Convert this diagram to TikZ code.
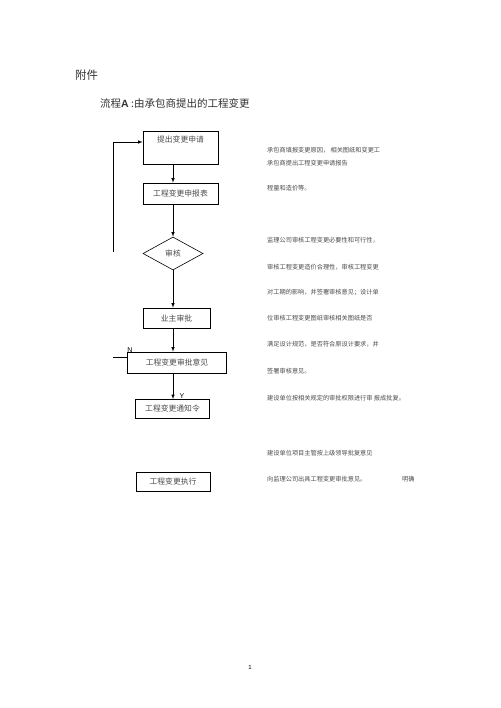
\documentclass[tikz,border=0pt]{standalone}
\usepackage{fontspec}
\setmainfont{Noto Sans CJK SC}
\newfontfamily\latinsans{Liberation Sans}
\usetikzlibrary{shapes.geometric}

\begin{document}
\begin{tikzpicture}[x=1pt,y=-1pt,>=latex]

\tikzstyle{stage}=[rectangle,draw=black,line width=0.6pt,text=black!70,font=\fontsize{7.8}{9}\selectfont,inner sep=0pt]
\tikzstyle{check}=[diamond,draw=black,line width=0.6pt,text=black!70,font=\fontsize{7.8}{9}\selectfont,inner sep=0pt,minimum width=60pt,minimum height=33pt]
\tikzstyle{note}=[anchor=west,inner sep=0pt,text=black!70,font=\fontsize{6.2}{7}\selectfont]
\tikzstyle{flow}=[->,line width=0.6pt]
\tikzstyle{yn}=[inner sep=0pt,font=\latinsans\fontsize{7}{8}\selectfont]

\useasboundingbox[fill=white] (0,0) rectangle (500,708);

\node[anchor=west,inner sep=0pt,text=black!80,font=\fontsize{11.5}{13}\selectfont] (att) at (75,75) {附件};
\node[anchor=west,inner sep=0pt,text=black!80,font=\fontsize{10.5}{12}\selectfont] (title) at (100,103) {流程{\latinsans\bfseries A} :由承包商提出的工程变更};

\node[stage,anchor=north,minimum width=75pt,inner ysep=3pt,text height=8pt,text depth=19pt] (apply) at (180.5,131) {提出变更申请};
\node[stage,minimum width=75pt,minimum height=21pt] (form) at (180.5,193.5) {工程变更申报表};
\node[check] (chk) at (173,253.5) {审核};
\node[stage,minimum width=67pt,minimum height=20pt] (owner) at (176.5,318) {业主审批};
\node[stage,minimum width=99pt,minimum height=21pt] (opinion) at (177,362.5) {工程变更审批意见};
\node[stage,minimum width=74pt,minimum height=19pt] (notice) at (172.5,409) {工程变更通知令};
\node[stage,minimum width=74pt,minimum height=19pt] (exec) at (173,481.5) {工程变更执行};

\draw[flow] (apply.south -| chk) -- (form.north -| chk);
\draw[flow] (form.south -| chk) -- (chk.north);
\draw[flow] (chk.south) -- (owner.north -| chk);
\draw[flow] (owner.south -| chk) -- (opinion.north -| chk);
\draw[flow] (opinion.south -| chk) -- (notice.north -| chk);

\coordinate (back) at (113,252);
\coordinate (backin) at (113,142);
\draw[flow] (back) -- (backin) -- (backin -| apply.west);
\coordinate (nend) at (113,357);
\draw[line width=0.6pt] (opinion.west |- nend) -- (nend);
\node[yn] (no) at (130,350) {N};
\node[yn] (yes) at (182,396) {Y};

\node[note] (n1) at (267,150) {承包商填报变更原因， 相关图纸和变更工};
\node[note] (n2) at (267,163) {承包商提出工程变更申请报告};
\node[note] (n3) at (267,188) {程量和造价等。};
\node[note] (n4) at (267,240) {监理公司审核工程变更必要性和可行性，};
\node[note] (n5) at (267,267) {审核工程变更造价合理性，审核工程变更};
\node[note] (n6) at (267,292) {对工期的影响，并签署审核意见；设计单};
\node[note] (n7) at (267,318) {位审核工程变更图纸审核相关图纸是否};
\node[note] (n8) at (267,344) {满足设计规范，是否符合原设计要求，并};
\node[note] (n9) at (267,371) {签署审核意见。};
\node[note] (n10) at (267,398) {建设单位按相关规定的审批权限进行审 报成批复。};
\node[note] (n11) at (267,453) {建设单位项目主管按上级领导批复意见};
\node[note] (n12) at (267,479) {向监理公司出具工程变更审批意见。};
\node[note] (n13) at (402,479) {明确};

\node[inner sep=0pt,font=\latinsans\fontsize{6}{7}\selectfont] (page) at (250,667) {1};
\end{tikzpicture}
\end{document}
